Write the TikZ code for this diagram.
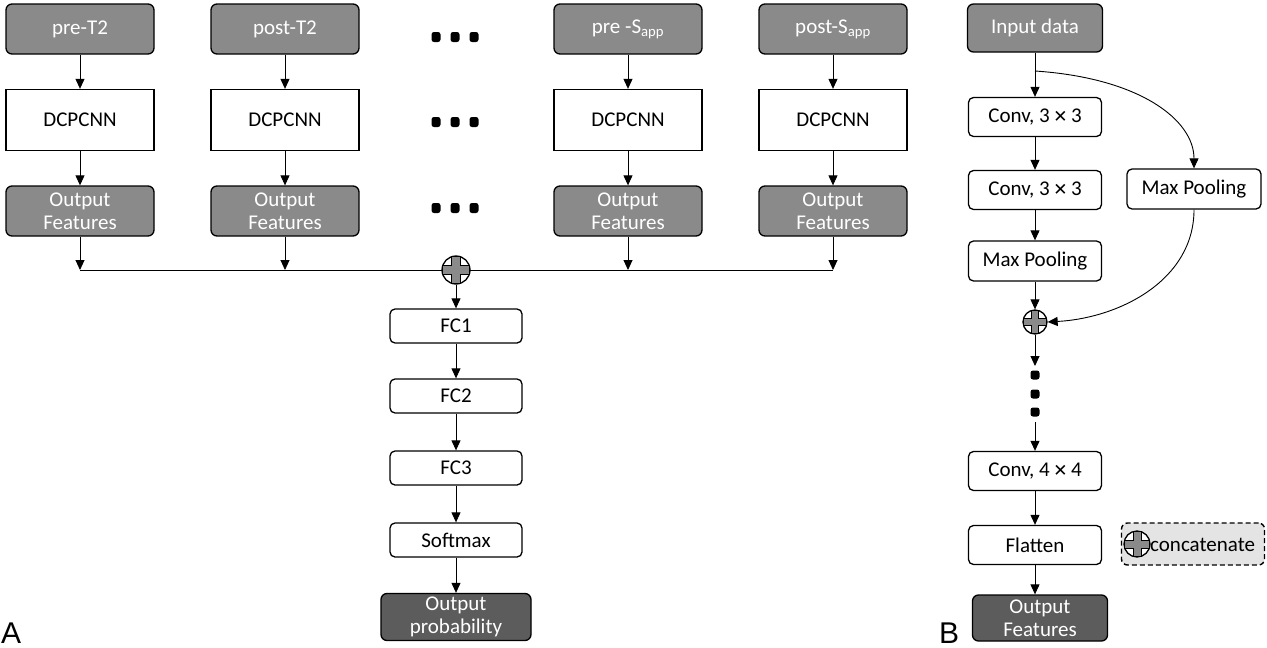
\documentclass[tikz,border=0pt]{standalone}
\usepackage{fontspec}
\setmainfont{Carlito}
\newfontfamily\lblfont{Liberation Sans}
\newfontfamily\symfont{DejaVu Sans}
\newcommand{\bigx}{\,{\symfont\fontsize{17}{20}\selectfont ✕}\,}
\usetikzlibrary{arrows.meta,shapes.geometric}
\definecolor{boxgray}{HTML}{8A8A8A}
\definecolor{darkgray2}{HTML}{5C5C5C}
\definecolor{legendgray}{HTML}{E4E4E4}
\tikzset{
  base/.style={draw=black,line width=1.3pt,align=center,inner sep=1pt,font=\fontsize{21}{23}\selectfont},
  gbox/.style={base,rounded corners=6pt,fill=boxgray,text=white,minimum width=148pt,minimum height=50pt},
  dbox/.style={base,fill=white,minimum width=148pt,minimum height=61pt},
  rbox/.style={base,rounded corners=5pt,fill=white,minimum width=132pt,minimum height=34pt},
  obox/.style={base,rounded corners=6pt,fill=darkgray2,text=white,minimum width=150pt,minimum height=47pt},
  arr/.style={line width=0.9pt,-{Triangle[length=10pt,width=9pt]}},
  ln/.style={line width=0.9pt},
  dotm/.style={fill=black,rounded corners=2.5pt},
  pluscirc/.style={circle,draw=black,line width=1.3pt,fill=white,minimum size=#1,inner sep=0pt},
}
\newcommand{\plusmark}[2]{%
  \begin{scope}[shift={#1}]
    \fill[boxgray,draw=black,line width=0.7pt]
      (-0.3*#2,-0.95*#2) -- (0.3*#2,-0.95*#2) -- (0.3*#2,-0.3*#2) -- (0.95*#2,-0.3*#2)
      -- (0.95*#2,0.3*#2) -- (0.3*#2,0.3*#2) -- (0.3*#2,0.95*#2) -- (-0.3*#2,0.95*#2)
      -- (-0.3*#2,0.3*#2) -- (-0.95*#2,0.3*#2) -- (-0.95*#2,-0.3*#2) -- (-0.3*#2,-0.3*#2) -- cycle;
  \end{scope}}
\begin{document}
\begin{tikzpicture}[x=1pt,y=-1pt]
\useasboundingbox (0,0) rectangle (1267,648);
% ---------- Panel A ----------
\node[gbox] (in1) at (80,29) {pre-T2};
\node[gbox] (in2) at (285,29) {post-T2};
\node[gbox] (in3) at (628,29) {pre -S\textsubscript{app}};
\node[gbox] (in4) at (833,29) {post-S\textsubscript{app}};
\node[dbox] (d1) at (80,120) {DCPCNN};
\node[dbox] (d2) at (285,120) {DCPCNN};
\node[dbox] (d3) at (628,120) {DCPCNN};
\node[dbox] (d4) at (833,120) {DCPCNN};
\node[gbox] (o1) at (80,211) {Output\\Features};
\node[gbox] (o2) at (285,211) {Output\\Features};
\node[gbox] (o3) at (628,211) {Output\\Features};
\node[gbox] (o4) at (833,211) {Output\\Features};
\foreach \i in {1,2,3,4}{
  \draw[arr] (in\i) -- (d\i);
  \draw[arr] (d\i) -- (o\i);
}
% ellipsis dots
\foreach \y in {37,122,208}{
  \foreach \x in {436,455,474}{
    \fill[dotm] (\x-4.5,\y-5) rectangle (\x+4.5,\y+5);
  }
}
% bus
\coordinate (b1) at (80,270);
\coordinate (b2) at (285,270);
\coordinate (b3) at (628,270);
\coordinate (b4) at (833,270);
\draw[ln] (b1) -- (b4);
\draw[arr] (o1) -- (b1);
\draw[arr] (o2) -- (b2);
\draw[arr] (o3) -- (b3);
\draw[arr] (o4) -- (b4);
\node[pluscirc=28pt] (pa) at (456,270) {};
\plusmark{(pa.center)}{14}
\node[rbox] (fc1) at (456,326) {FC1};
\node[rbox] (fc2) at (456,396) {FC2};
\node[rbox] (fc3) at (456,468) {FC3};
\node[rbox] (sm) at (456,540) {Softmax};
\node[obox] (op) at (456,617) {Output\\probability};
\draw[arr] (pa) -- (fc1);
\draw[arr] (fc1) -- (fc2);
\draw[arr] (fc2) -- (fc3);
\draw[arr] (fc3) -- (sm);
\draw[arr] (sm) -- (op);
\node[font=\lblfont\fontsize{30}{32}\selectfont,anchor=base west,inner sep=0pt] (la) at (1,643) {A};
% ---------- Panel B ----------
\node[gbox,minimum width=135pt,minimum height=48pt] (ind) at (1035,28) {Input data};
\node[rbox,minimum width=133pt,minimum height=39pt] (c1) at (1035,117) {Conv, 3\bigx 3};
\node[rbox,minimum width=133pt,minimum height=39pt] (c2) at (1035,190) {Conv, 3\bigx 3};
\node[rbox,minimum width=133pt,minimum height=40pt] (mp1) at (1035,261) {Max Pooling};
\node[rbox,minimum width=134pt,minimum height=40pt] (mp2) at (1194,189) {Max Pooling};
\node[pluscirc=24pt] (pb) at (1035,322) {};
\plusmark{(pb.center)}{12}
\coordinate (split) at (1035,71);
\draw[arr] (ind) -- (c1);
\draw[arr] (c1) -- (c2);
\draw[arr] (c2) -- (mp1);
\draw[arr] (mp1) -- (pb);
\draw[arr] (split) .. controls (1140,78) and (1194,120) .. (mp2.north);
\draw[arr] (mp2.south) .. controls (1194,280) and (1120,318) .. (pb.east);
\coordinate (e1) at (1035,366);
\coordinate (e2) at (1035,422);
\draw[arr] (pb) -- (e1);
\foreach \y in {375,394,412}{
  \fill[dotm] (1035-4.5,\y-4.5) rectangle (1035+4.5,\y+4.5);
}
\node[rbox,minimum width=133pt,minimum height=39pt] (c4) at (1035,471) {Conv, 4\bigx 4};
\node[rbox,minimum width=133pt,minimum height=39pt] (fl) at (1035,545) {Flatten};
\node[obox,minimum width=135pt,minimum height=46pt] (ob) at (1040,618) {Output\\Features};
\draw[arr] (e2) -- (c4);
\draw[arr] (c4) -- (fl);
\draw[arr] (fl) -- (ob.north -| fl);
% legend
\node[draw=black,dash pattern=on 5pt off 3pt,line width=1.4pt,rounded corners=6pt,fill=legendgray,minimum width=143pt,minimum height=42pt] (leg) at (1193,544) {};
\node[pluscirc=26pt] (pl) at (1137,544) {};
\plusmark{(pl.center)}{13}
\node[anchor=west,inner sep=0pt,font=\fontsize{21}{23}\selectfont] (lt) at (1150,545) {concatenate};
\node[font=\lblfont\fontsize{30}{32}\selectfont,anchor=base west,inner sep=0pt] (lb) at (939,643) {B};
\end{tikzpicture}
\end{document}
